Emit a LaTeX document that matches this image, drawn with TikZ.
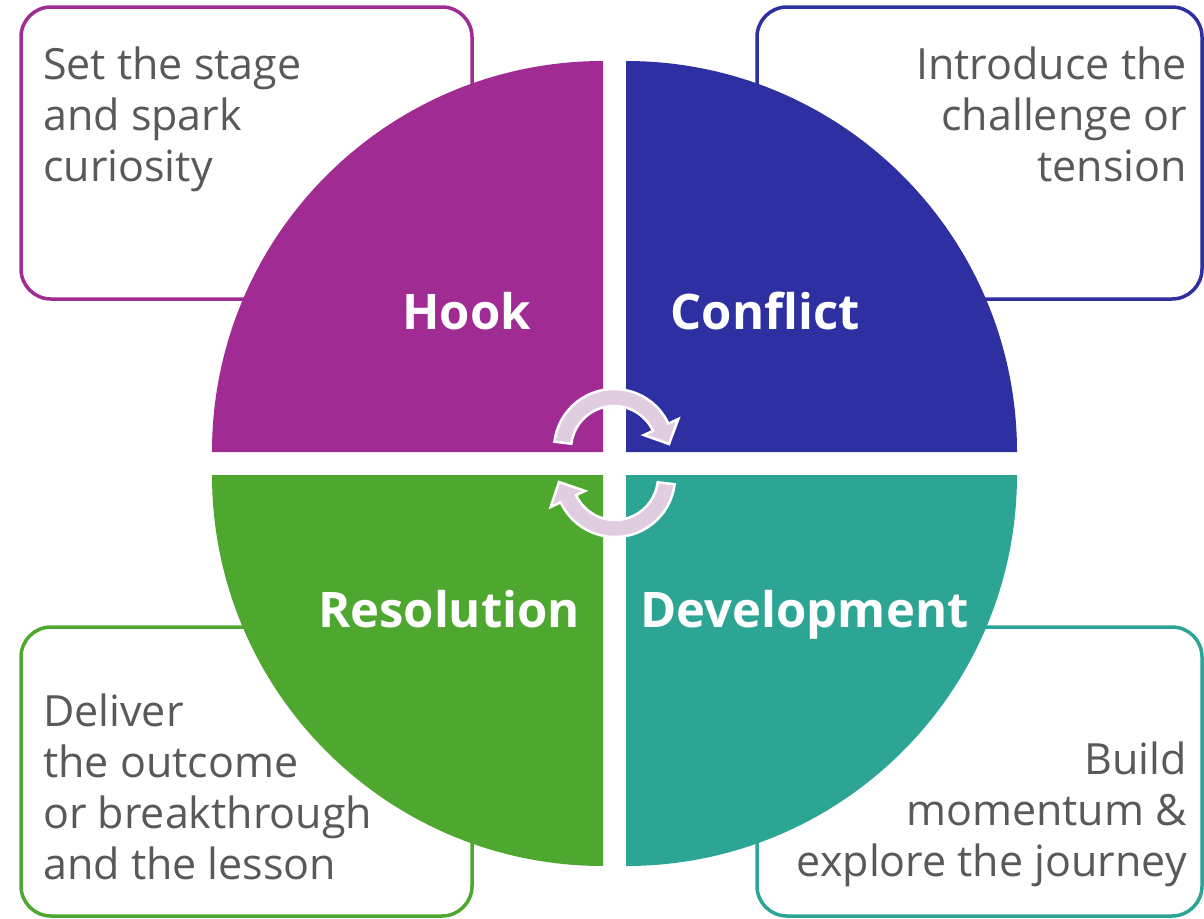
\documentclass[tikz,border=0pt]{standalone}
\usepackage{fontspec}
\setmainfont{Open Sans}
\definecolor{hookc}{HTML}{A02B93}
\definecolor{conflictc}{HTML}{2E2FA0}
\definecolor{devc}{HTML}{2DA594}
\definecolor{resc}{HTML}{4EA72E}
\definecolor{txtgray}{HTML}{595959}
\definecolor{arrowc}{HTML}{E0CDE0}
\begin{document}
\begin{tikzpicture}[x=1pt,y=-1pt,
  infobox/.style={line width=3.5pt, rounded corners=30pt, fill=white},
  bodytext/.style={text=txtgray, inner sep=0pt, font=\fontsize{43}{51}\selectfont},
  quadlabel/.style={text=white, inner sep=0pt, anchor=base, font=\fontsize{49}{55}\selectfont\bfseries},
  cyclearrow/.style={fill=arrowc, draw=white, line width=2.5pt, line join=miter}
]
\useasboundingbox (0,0) rectangle (1204,918);
% text boxes
\draw[infobox, draw=hookc] (21,7) rectangle (472,299);
\draw[infobox, draw=conflictc] (757,7) rectangle (1202,299);
\draw[infobox, draw=resc] (21,627) rectangle (472,916);
\draw[infobox, draw=devc] (757,627) rectangle (1202,916);
% quadrants
\fill[hookc] (603,452) -- (212,452) arc[start angle=180, end angle=270, radius=391] -- cycle;
\fill[conflictc] (626,452) -- (626,61) arc[start angle=270, end angle=360, radius=391] -- cycle;
\fill[devc] (626,475) -- (1017,475) arc[start angle=0, end angle=90, radius=391] -- cycle;
\fill[resc] (603,475) -- (603,866) arc[start angle=90, end angle=180, radius=391] -- cycle;
% labels
\node[quadlabel] (hook) at (466.5,329) {Hook};
\node[quadlabel] (conflict) at (765,329) {Conflict};
\node[quadlabel] (resolution) at (449,627) {Resolution};
\node[quadlabel] (development) at (804.5,627) {Development};
% body texts (base anchor = baseline of last line)
\node[bodytext, anchor=base west, align=left] (hooktext) at (43,181) {Set the stage\\and spark\\curiosity};
\node[bodytext, anchor=base east, align=right] (conflicttext) at (1187,181) {Introduce the\\challenge or\\tension};
\node[bodytext, anchor=base west, align=left] (restext) at (43,879) {Deliver\\the outcome\\or breakthrough\\and the lesson};
\node[bodytext, anchor=base east, align=right] (devtext) at (1187,876) {Build\\momentum \&\\explore the journey};
% cycle arrows
\begin{scope}[shift={(614,449)}]
\path[cyclearrow] (187:60) arc[start angle=187, end angle=335, radius=60] -- (335:71) -- (55,-5) -- (335:33) -- (335:43) arc[start angle=335, end angle=187, radius=43] -- cycle;
\end{scope}
\begin{scope}[shift={(615,477)}]
\path[cyclearrow] (7:60) arc[start angle=7, end angle=155, radius=60] -- (155:71) -- (-56,5) -- (155:33) -- (155:43) arc[start angle=155, end angle=7, radius=43] -- cycle;
\end{scope}
\end{tikzpicture}
\end{document}
